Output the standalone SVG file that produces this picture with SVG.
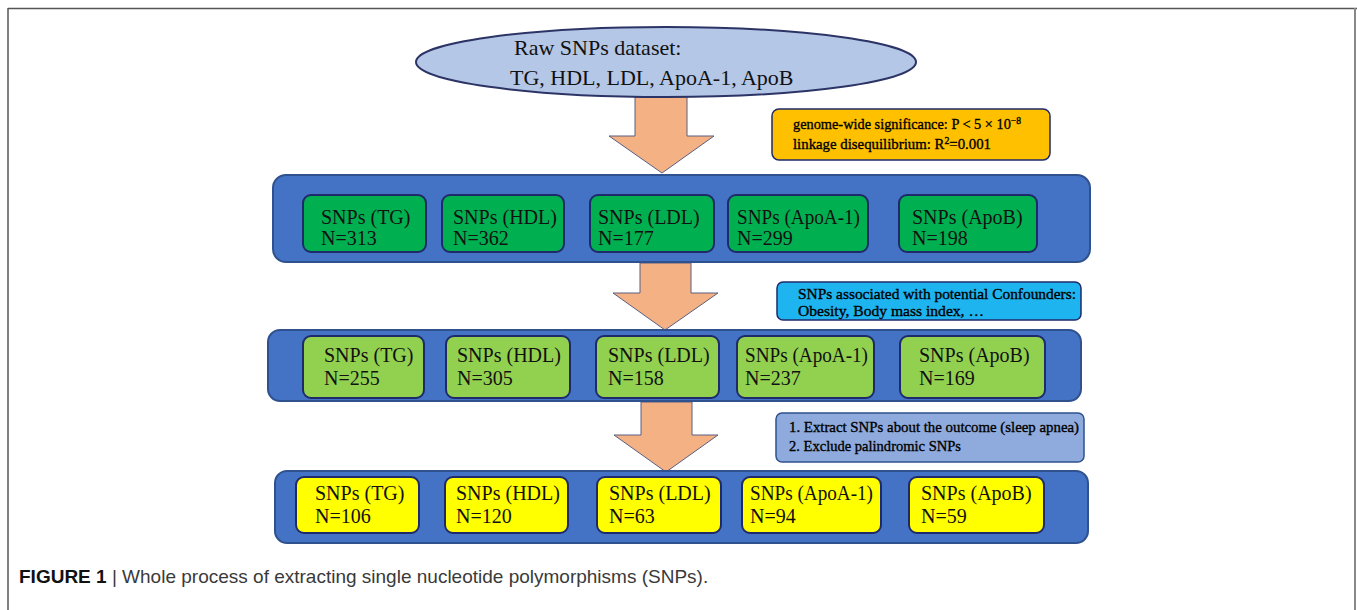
<svg xmlns="http://www.w3.org/2000/svg" width="1357" height="610" viewBox="0 0 1357 610">
<defs>
<style>
.band{stroke:#2f528f;stroke-width:2}
.bandfill{fill:#4472c4}
.node{stroke:#1f2a6b;stroke-width:2}
.g1{fill:#00b050}
.g2{fill:#92d050}
.g3{fill:#ffff00}
.t{font-family:"Liberation Serif","Times New Roman",serif;font-size:20px;fill:#111}
.small{font-family:"Liberation Serif","Times New Roman",serif;font-size:15px;fill:#000;stroke:#000;stroke-width:0.35}
.arrow{fill:#f4b183;stroke:#5b5f80;stroke-width:1}
.cap{font-family:"Liberation Sans",Arial,sans-serif;font-size:19px;fill:#3a3a3a}
</style>
</defs>
<rect x="0" y="0" width="1357" height="610" fill="#ffffff"/>
<g id="frame">
<line x1="8" y1="8.5" x2="1357" y2="8.5" stroke="#555" stroke-width="1.5"/>
<line x1="8" y1="8" x2="8" y2="610" stroke="#555" stroke-width="1.5"/>
<line x1="1355" y1="8" x2="1355" y2="610" stroke="#888" stroke-width="2"/>
</g>
<g id="connectors">
<path class="arrow" d="M635,97 L687,97 L687,136 L714,136 L662,173 L609,136 L635,136 Z"/>
<path class="arrow" d="M640,263 L691,263 L691,293 L718,293 L665,330 L613,293 L640,293 Z"/>
<path class="arrow" d="M641,402 L692,402 L692,435 L718,435 L666,472 L614,435 L641,435 Z"/>
</g>
<g id="raw">
<ellipse cx="666" cy="62" rx="250" ry="35" fill="#b4c7e7" stroke="#2c3466" stroke-width="2"/>
<text class="t" style="font-size:22px" x="514" y="55">Raw SNPs dataset:</text>
<text class="t" style="font-size:22px" x="510" y="85">TG, HDL, LDL, ApoA-1, ApoB</text>
</g>
<g id="note1">
<rect x="772" y="109" width="278" height="51" rx="7" fill="#ffc000" stroke="#1f2a6b" stroke-width="1.5"/>
<text class="small" x="793" y="129" textLength="228" lengthAdjust="spacingAndGlyphs">genome-wide significance: P &lt; 5 × 10<tspan baseline-shift="super" font-size="10">−8</tspan></text>
<text class="small" x="793" y="149" textLength="198" lengthAdjust="spacingAndGlyphs">linkage disequilibrium: R<tspan baseline-shift="super" font-size="10">2</tspan>=0.001</text>
</g>
<g id="band1">
<rect class="band bandfill" x="273" y="175" width="817" height="87" rx="13"/>
</g>
<g id="n1-tg"><rect class="node g1" x="303" y="195" width="123" height="57" rx="8"/><text class="t" x="321" y="224">SNPs (TG)</text><text class="t" x="321" y="245">N=313</text></g>
<g id="n1-hdl"><rect class="node g1" x="442" y="195" width="122" height="57" rx="8"/><text class="t" x="453" y="224">SNPs (HDL)</text><text class="t" x="453" y="245">N=362</text></g>
<g id="n1-ldl"><rect class="node g1" x="590" y="195" width="124" height="57" rx="8"/><text class="t" x="598" y="224">SNPs (LDL)</text><text class="t" x="598" y="245">N=177</text></g>
<g id="n1-apoa1"><rect class="node g1" x="728" y="195" width="140" height="57" rx="8"/><text class="t" x="737" y="224" textLength="123" lengthAdjust="spacingAndGlyphs">SNPs (ApoA-1)</text><text class="t" x="737" y="245">N=299</text></g>
<g id="n1-apob"><rect class="node g1" x="899" y="195" width="138" height="57" rx="8"/><text class="t" x="912" y="224">SNPs (ApoB)</text><text class="t" x="912" y="245">N=198</text></g>
<g id="note2">
<rect x="777" y="282" width="304" height="38" rx="6" fill="#1eb4f0" stroke="#1f2a6b" stroke-width="1.5"/>
<text class="small" x="798" y="299" textLength="278" lengthAdjust="spacingAndGlyphs">SNPs associated with potential Confounders:</text>
<text class="small" x="798" y="316" textLength="186" lengthAdjust="spacingAndGlyphs">Obesity, Body mass index, …</text>
</g>
<g id="band2">
<rect class="band bandfill" x="268" y="330" width="813" height="71" rx="12"/>
</g>
<g id="n2-tg"><rect class="node g2" x="303" y="336" width="121" height="62" rx="8"/><text class="t" x="324" y="362">SNPs (TG)</text><text class="t" x="324" y="385">N=255</text></g>
<g id="n2-hdl"><rect class="node g2" x="446" y="336" width="124" height="62" rx="8"/><text class="t" x="457" y="362">SNPs (HDL)</text><text class="t" x="457" y="385">N=305</text></g>
<g id="n2-ldl"><rect class="node g2" x="596" y="336" width="123" height="62" rx="8"/><text class="t" x="608" y="362">SNPs (LDL)</text><text class="t" x="608" y="385">N=158</text></g>
<g id="n2-apoa1"><rect class="node g2" x="737" y="336" width="137" height="62" rx="8"/><text class="t" x="745" y="362" textLength="123" lengthAdjust="spacingAndGlyphs">SNPs (ApoA-1)</text><text class="t" x="745" y="385">N=237</text></g>
<g id="n2-apob"><rect class="node g2" x="900" y="336" width="145" height="62" rx="8"/><text class="t" x="919" y="362">SNPs (ApoB)</text><text class="t" x="919" y="385">N=169</text></g>
<g id="note3">
<rect x="776" y="413" width="308" height="49" rx="6" fill="#8faadc" stroke="#2f528f" stroke-width="1.5"/>
<text class="small" x="789" y="432" textLength="290" lengthAdjust="spacingAndGlyphs">1. Extract SNPs about the outcome (sleep apnea)</text>
<text class="small" x="789" y="451" textLength="172" lengthAdjust="spacingAndGlyphs">2. Exclude palindromic SNPs</text>
</g>
<g id="band3">
<rect class="band bandfill" x="275" y="471" width="813" height="72" rx="12"/>
</g>
<g id="n3-tg"><rect class="node g3" x="296" y="477" width="123" height="56" rx="8"/><text class="t" x="315" y="500">SNPs (TG)</text><text class="t" x="315" y="523">N=106</text></g>
<g id="n3-hdl"><rect class="node g3" x="445" y="477" width="123" height="56" rx="8"/><text class="t" x="456" y="500">SNPs (HDL)</text><text class="t" x="456" y="523">N=120</text></g>
<g id="n3-ldl"><rect class="node g3" x="597" y="477" width="124" height="56" rx="8"/><text class="t" x="609" y="500">SNPs (LDL)</text><text class="t" x="609" y="523">N=63</text></g>
<g id="n3-apoa1"><rect class="node g3" x="742" y="477" width="139" height="56" rx="8"/><text class="t" x="750" y="500" textLength="123" lengthAdjust="spacingAndGlyphs">SNPs (ApoA-1)</text><text class="t" x="750" y="523">N=94</text></g>
<g id="n3-apob"><rect class="node g3" x="909" y="477" width="135" height="56" rx="8"/><text class="t" x="921" y="500">SNPs (ApoB)</text><text class="t" x="921" y="523">N=59</text></g>
<g id="caption">
<text class="cap" x="19" y="583"><tspan font-weight="bold" fill="#111">FIGURE 1</tspan> | Whole process of extracting single nucleotide polymorphisms (SNPs).</text>
</g>
</svg>
